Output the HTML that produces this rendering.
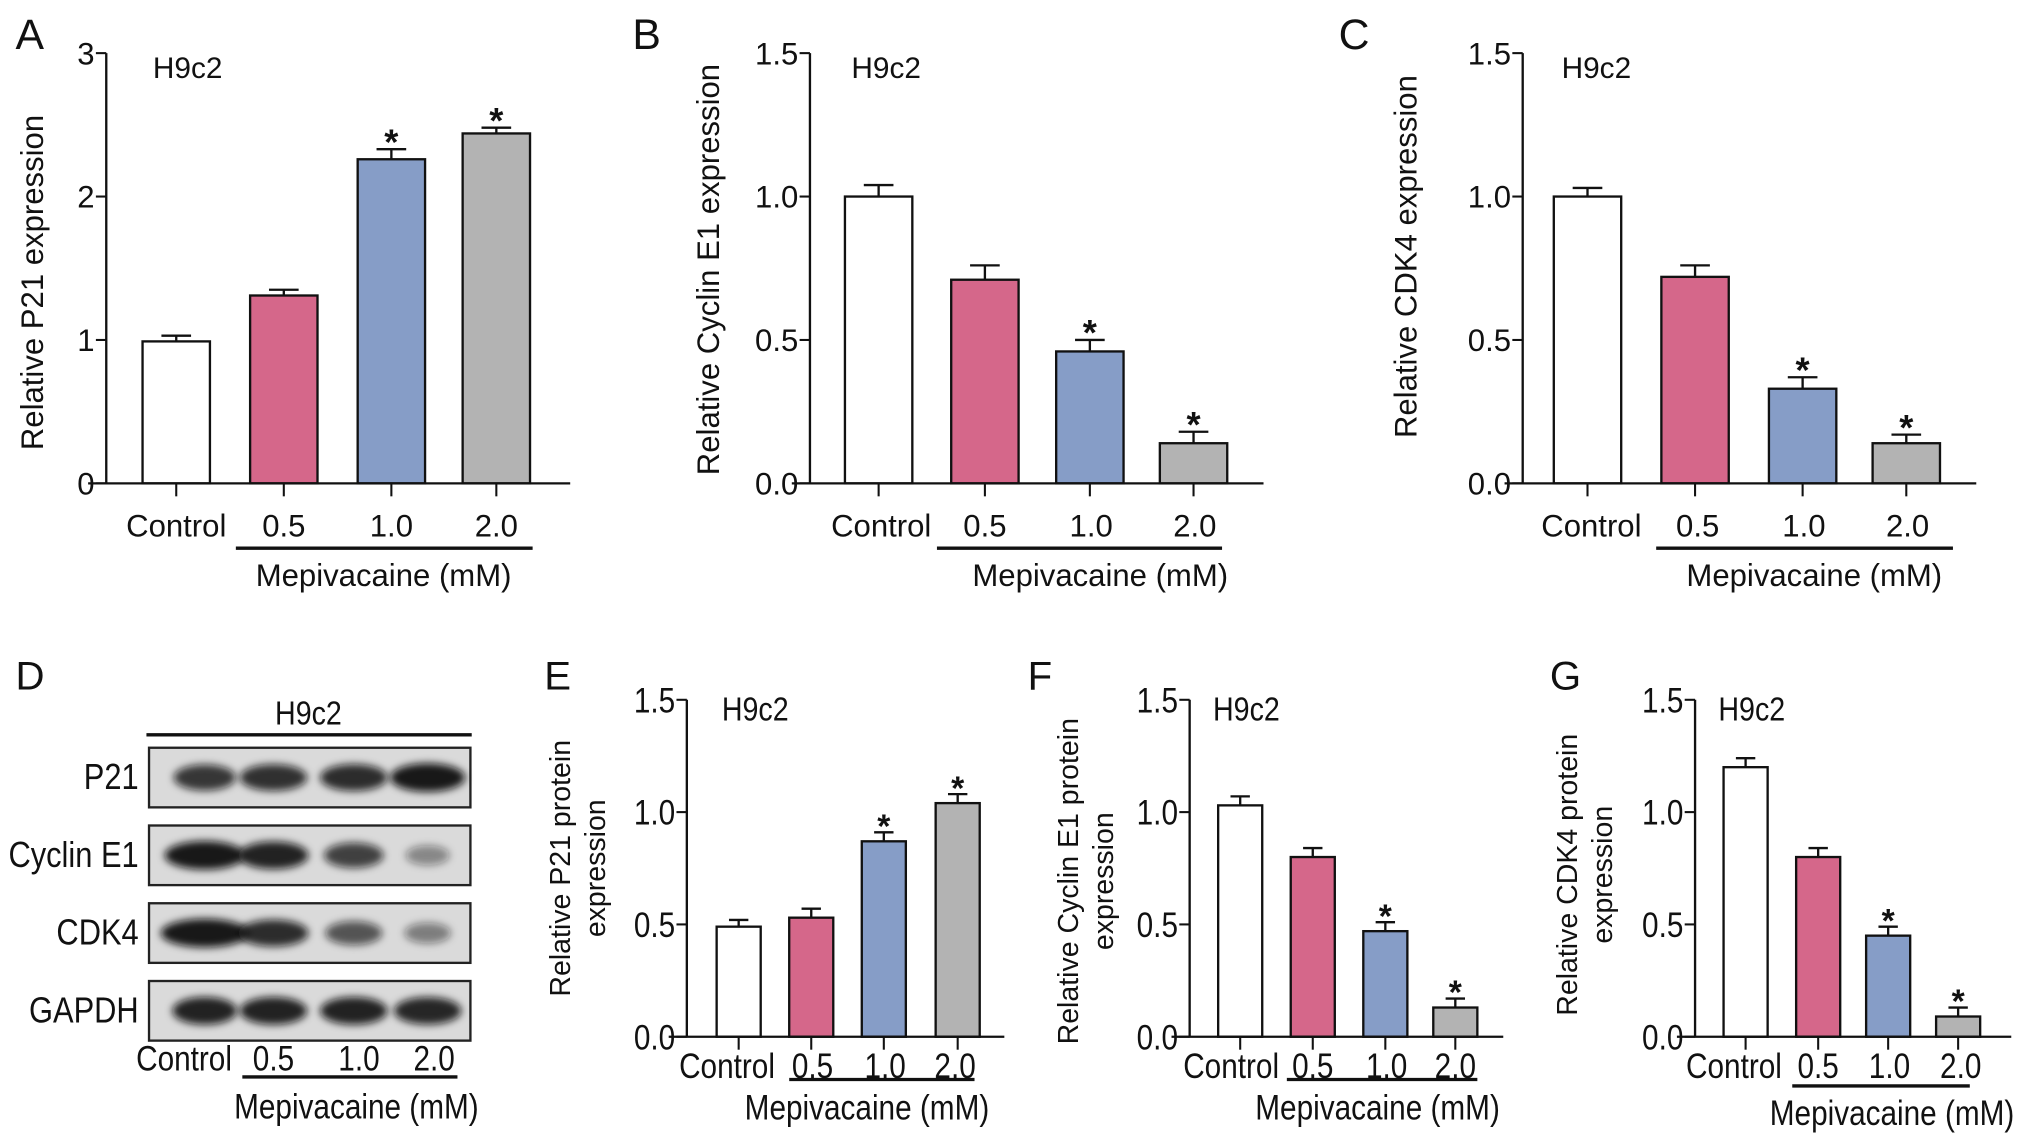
<!DOCTYPE html>
<html><head><meta charset="utf-8"><style>
html,body{margin:0;padding:0;background:#fff}
svg{display:block;font-family:"Liberation Sans",Arial,sans-serif}
</style></head><body>
<svg id="fig" width="2032" height="1143" viewBox="0 0 1568 882">
<defs><filter id="blur" x="-50%" y="-50%" width="200%" height="200%"><feGaussianBlur stdDeviation="3"/></filter></defs>
</svg>
<script>
const NS='http://www.w3.org/2000/svg';
const svg=document.getElementById('fig');
const categories=['Control','0.5','1.0','2.0'];
const colors=['#ffffff','#d5678a','#869dc7','#b3b3b3'];
// data
const valsA=[0.99,1.31,2.26,2.44], errA=[0.04,0.04,0.07,0.04], sigA=[false,false,true,true];
const valsB=[1.0,0.71,0.46,0.14], errB=[0.04,0.05,0.04,0.04], sigB=[false,false,true,true];
const valsC=[1.0,0.72,0.33,0.14], errC=[0.03,0.04,0.04,0.03], sigC=[false,false,true,true];
const valsE=[0.49,0.53,0.87,1.04], errE=[0.03,0.04,0.04,0.04], sigE=[false,false,true,true];
const valsF=[1.03,0.80,0.47,0.13], errF=[0.04,0.04,0.04,0.04], sigF=[false,false,true,true];
const valsG=[1.20,0.80,0.45,0.09], errG=[0.04,0.04,0.04,0.04], sigG=[false,false,true,true];
const ticksA=['0','1','2','3'];
const ticksB=['0.0','0.5','1.0','1.5'];

function el(tag,attrs,parent){const e=document.createElementNS(NS,tag);for(const k in attrs)e.setAttribute(k,attrs[k]);(parent||svg).appendChild(e);return e;}
function txt(s,x,y,size,anchor,parent,cond,rot){
  const t=el('text',{x:0,y:0,'font-size':size,'text-anchor':anchor||'middle',fill:'#111'},parent);
  t.textContent=s;
  let tr='translate('+x+','+y+')';
  if(rot)tr+=' rotate(-90)';
  if(cond)tr+=' scale('+cond+',1)';
  t.setAttribute('transform',tr);
  return t;
}
function panel(o){
  const g=el('g',{});
  
  
  const y=v=>o.y0-(v/o.max)*(o.y0-o.yTop);
  const c=o.cond;
  const L=txt(o.letter,o.letterX,o.letterY,o.letterSize,'start',g);
  
  const H=txt('H9c2',o.hx,o.hy,o.hfs,'start',g,c);
  
  o.vals.forEach((v,i)=>{
    const cx=o.centers[i];
    const bar=el('rect',{x:cx-o.bw/2,y:y(v),width:o.bw,height:o.y0-y(v),fill:colors[i],stroke:'#111','stroke-width':1.8},g);
    
    
    const tp=y(v+o.err[i]);
    el('line',{x1:cx,x2:cx,y1:y(v),y2:tp,stroke:'#111','stroke-width':1.8},g);
    el('line',{x1:cx-o.bw*0.22,x2:cx+o.bw*0.22,y1:tp,y2:tp,stroke:'#111','stroke-width':1.8},g);
    if(o.sig[i]){const s=txt('*',cx,tp+4,o.starFs,'middle',g);s.setAttribute('font-weight','bold');}
    el('line',{x1:cx,x2:cx,y1:o.y0,y2:o.y0+10,stroke:'#111','stroke-width':1.6},g);
    const tl=txt(categories[i],o.labelX[i],o.labelY,o.fs,'middle',g,c);
    
  });
  el('line',{x1:o.ax,x2:o.ax,y1:o.yTop,y2:o.y0,stroke:'#111','stroke-width':1.8},g);
  el('line',{x1:o.ax-14,x2:o.axEnd,y1:o.y0,y2:o.y0,stroke:'#111','stroke-width':1.8},g);
  o.ticks.forEach((t,i)=>{
    const v=o.max*i/(o.ticks.length-1);
    el('line',{x1:o.ax-8,x2:o.ax,y1:y(v),y2:y(v),stroke:'#111','stroke-width':1.6},g);
    const tt=txt(t,o.ax-9,y(v)+o.fs*0.36,o.fs,'end',g,c);
    
  });
  el('line',{x1:o.ul[0],x2:o.ul[1],y1:o.ulY,y2:o.ulY,stroke:'#111','stroke-width':2.6},g);
  const m=txt('Mepivacaine (mM)',o.mx,o.my,o.fs,'middle',g,c);
  
  o.title.forEach((t,i)=>{
    const yt=txt(t,o.tx[i],o.ty,o.tfs,'middle',g,null,true);
    
  });
}
const topCfg={fs:24,hfs:23,tfs:24,starFs:28,y0:373,yTop:41,bw:52,labelY:414,ulY:423,my:452,letterY:38,letterSize:33,hy:60};
panel(Object.assign({},topCfg,{name:'panel-a',letter:'A',letterX:12,hx:118,vals:valsA,err:errA,sig:sigA,max:3,ticks:ticksA,
  ax:82,axEnd:440,centers:[136,219,302,383],labelX:[136,219,302,383],ul:[182,411],mx:296,title:['Relative P21 expression'],tx:[33],ty:218}));
panel(Object.assign({},topCfg,{name:'panel-b',letter:'B',letterX:488,hx:657,vals:valsB,err:errB,sig:sigB,max:1.5,ticks:ticksB,
  ax:625,axEnd:975,centers:[678,760,841,921],labelX:[680,760,842,922],ul:[723,943],mx:849,title:['Relative Cyclin E1 expression'],tx:[555],ty:208}));
panel(Object.assign({},topCfg,{name:'panel-c',letter:'C',letterX:1033,hx:1205,vals:valsC,err:errC,sig:sigC,max:1.5,ticks:ticksB,
  ax:1175,axEnd:1525,centers:[1225,1308,1391,1471],labelX:[1228,1310,1392,1472],ul:[1278,1507],mx:1400,title:['Relative CDK4 expression'],tx:[1093],ty:198}));
const botCfg={fs:27,hfs:26,tfs:22,starFs:26,y0:800,yTop:540,bw:34,labelY:832,ulY:833,my:864,letterY:532,letterSize:31,hy:556,cond:0.85};
panel(Object.assign({},botCfg,{name:'panel-e',letter:'E',letterX:420,hx:557,vals:valsE,err:errE,sig:sigE,max:1.5,ticks:ticksB,
  ax:530,axEnd:775,centers:[570,626,682,739],labelX:[561,627,683,737],ul:[609,752],mx:669,title:['Relative P21 protein','expression'],tx:[440,467],ty:670}));
panel(Object.assign({},botCfg,{name:'panel-f',letter:'F',letterX:793,hx:936,vals:valsF,err:errF,sig:sigF,max:1.5,ticks:ticksB,
  ax:918,axEnd:1160,centers:[957,1013,1069,1123],labelX:[950,1013,1070,1123],ul:[993,1140],mx:1063,title:['Relative Cyclin E1 protein','expression'],tx:[832,859],ty:680}));
panel(Object.assign({},botCfg,{name:'panel-g',letter:'G',letterX:1196,hx:1326,vals:valsG,err:errG,sig:sigG,max:1.5,ticks:ticksB,
  ax:1308,axEnd:1552,centers:[1347,1403,1457,1511],labelX:[1338,1403,1458,1513],ul:[1383,1520],ulY:838,my:868,mx:1460,title:['Relative CDK4 protein','expression'],tx:[1217,1244],ty:675}));

// Western blot panel D
const proteins=['P21','Cyclin E1','CDK4','GAPDH'];
const laneX=[158,211,273,330];
const bandIntensity=[[0.85,0.88,0.9,1.0],[1.0,0.95,0.8,0.45],[1.0,0.9,0.7,0.5],[0.95,0.95,0.95,0.93]];
const bandWidth=[[48,52,52,58],[62,54,46,34],[68,54,44,36],[50,52,52,52]];
const gD=el('g',{});


txt('D',12,532,31,'start',gD);
txt('H9c2',238,559,26,'middle',gD,0.85);
el('line',{x1:113,x2:364,y1:567,y2:567,stroke:'#111','stroke-width':2.6},gD);
proteins.forEach((p,r)=>{
  const by=577+r*60;
  const box=el('rect',{x:115,y:by,width:248,height:46,fill:'#dadada',stroke:'#222','stroke-width':1.8},gD);
  
  
  const lab=txt(p,107,by+32,28,'end',gD,0.85);
  
  laneX.forEach((lx,i)=>{
    const a=bandIntensity[r][i];
    el('ellipse',{cx:lx,cy:by+23,rx:bandWidth[r][i]/2,ry:5+6*a,fill:'#111','fill-opacity':a*0.95,filter:'url(#blur)'},gD);
  });
});
const dLab=[142,211,277,335];
categories.forEach((c,i)=>{const t=txt(c,dLab[i],826,27,'middle',gD,0.85);});
el('line',{x1:187,x2:353,y1:831,y2:831,stroke:'#111','stroke-width':2.6},gD);
txt('Mepivacaine (mM)',275,863,27,'middle',gD,0.85);
</script>
</body></html>
